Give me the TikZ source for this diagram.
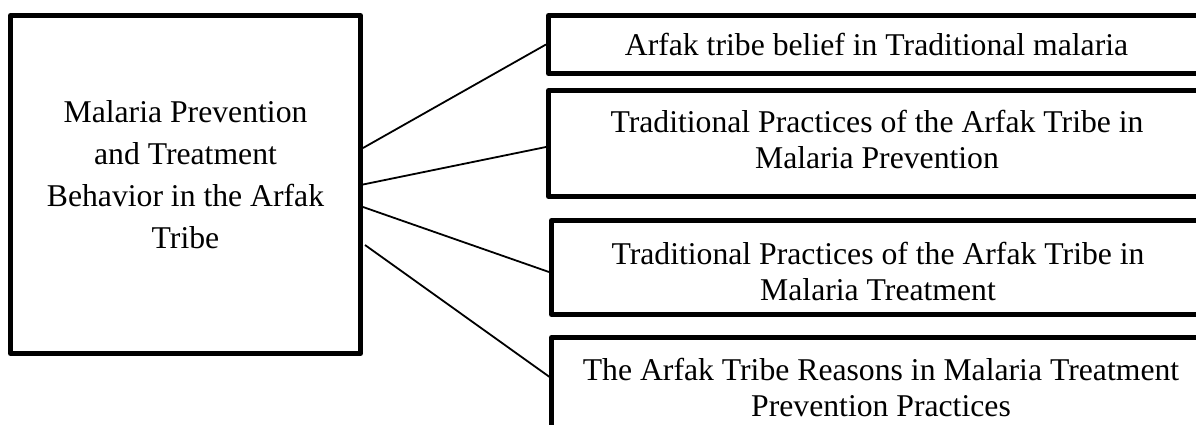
\documentclass[tikz,border=0pt]{standalone}
\usepackage{fontspec}
\setmainfont{Liberation Serif}
\usetikzlibrary{calc}
\tikzset{
  box/.style={draw=black, line width=5pt, line join=round, inner sep=0pt, fill=white},
  txt/.style={inner sep=0pt, align=center, font=\fontsize{31.7}{36}\selectfont},
  ltxt/.style={inner sep=0pt, align=center, font=\fontsize{31.7}{42}\selectfont},
  link/.style={draw=black, line width=1.8pt}
}
\begin{document}
\begin{tikzpicture}[x=1pt,y=-1pt]
\useasboundingbox (0,0) rectangle (1196,425);
\clip (0,0) rectangle (1196,425);
% left box
\node[box, minimum width=350pt, minimum height=338pt] (lb) at (185.5,184.5) {};
\node[ltxt] (lbt) at (185.5,175) {Malaria Prevention\\and Treatment\\Behavior in the Arfak\\Tribe};
% right boxes
\node[box, minimum width=659.5pt, minimum height=58pt] (b1) at (878.25,44.5) {};
\node[box, minimum width=659.5pt, minimum height=106pt] (b2) at (878.25,143.5) {};
\node[box, minimum width=659.5pt, minimum height=94pt] (b3) at (881.25,267.5) {};
\node[box, minimum width=659.5pt, minimum height=132.5pt] (b4) at (881.25,403.75) {};
\node[txt, anchor=base] (t1) at (876.5,56) {Arfak tribe belief in Traditional malaria};
\node[txt] (t2) at (877,139.5) {Traditional Practices of the Arfak Tribe in\\Malaria Prevention};
\node[txt] (t3) at (878,271) {Traditional Practices of the Arfak Tribe in\\Malaria Treatment};
\node[txt] (t4) at (881,387) {The Arfak Tribe Reasons in Malaria Treatment\\Prevention Practices};
% connectors
\draw[link] ($(lb.east)+(0,-36.5)$) -- (b1.west);
\draw[link] (lb.east) -- ($(b2.west)+(0,3.5)$);
\draw[link] ($(lb.east)+(0,22.5)$) -- ($(b3.west)+(0,4.5)$);
\draw[link] ($(lb.east)+(2,60.5)$) -- ($(b4.north west)+(2,43)$);
\end{tikzpicture}
\end{document}
